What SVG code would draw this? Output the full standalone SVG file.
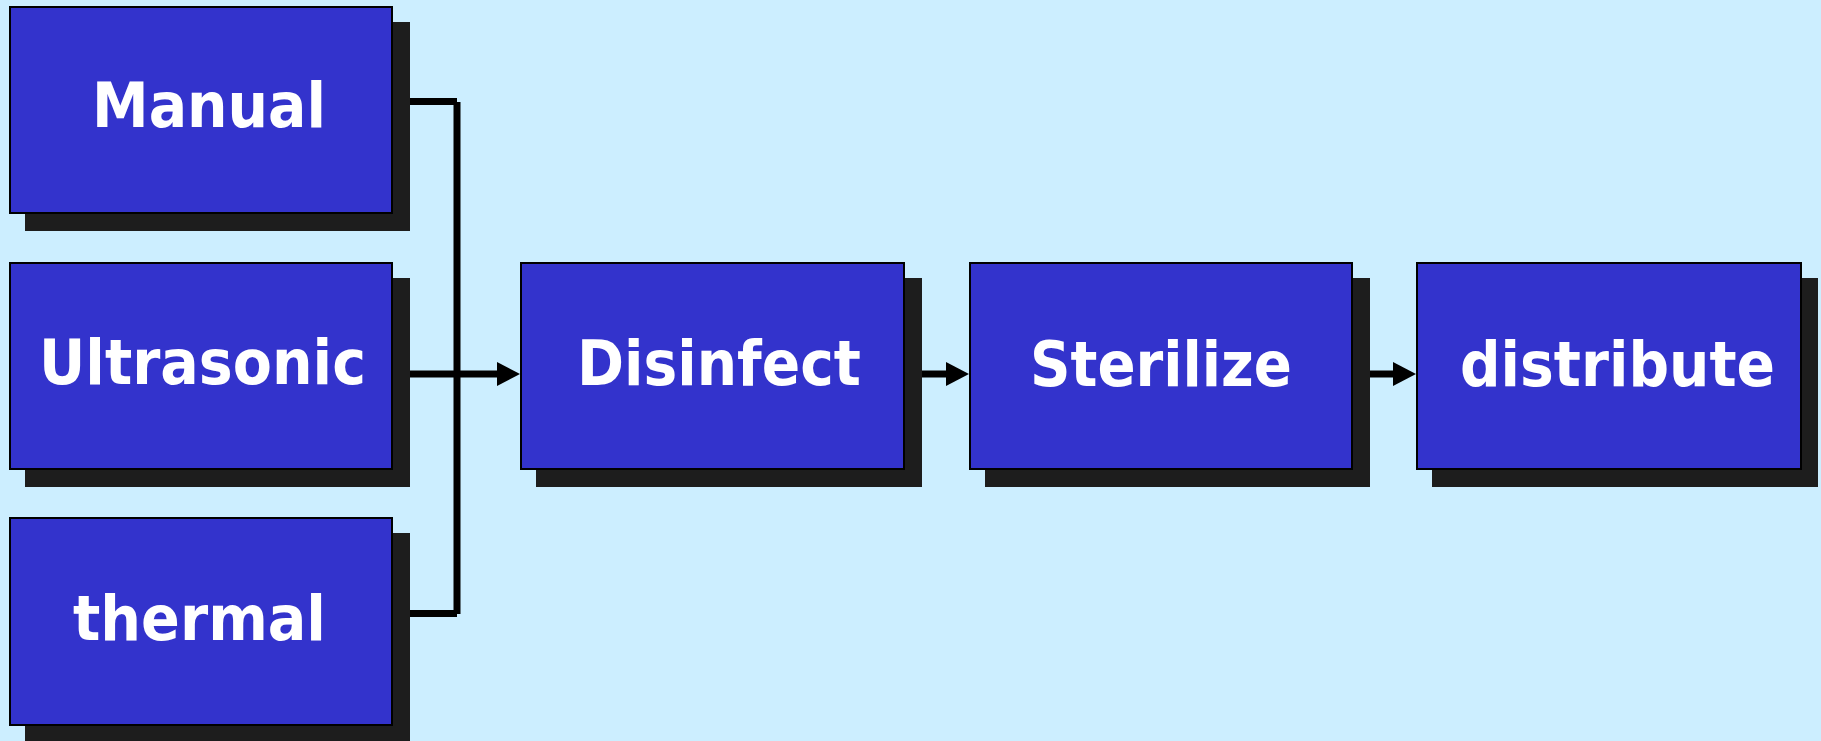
<svg xmlns="http://www.w3.org/2000/svg" width="1821" height="741" viewBox="0 0 1821 741">
  <style>
    .shadow { fill: #1d1d1d; }
    .box { fill: #3333cc; stroke: #000000; stroke-width: 2; }
    .label { fill: #ffffff; font-family: "DejaVu Sans", Verdana, sans-serif; font-weight: bold; font-size: 62px; }
    .wire { fill: none; stroke: #000000; stroke-width: 7; stroke-linecap: butt; }
  </style>
  <defs>
    <marker id="head" markerUnits="userSpaceOnUse" markerWidth="23" markerHeight="24" refX="0" refY="12" orient="auto" overflow="visible">
      <path d="M0,0 L23,12 L0,24 Z" fill="#000000"/>
    </marker>
  </defs>

  <rect x="0" y="0" width="1821" height="741" fill="#cceeff"/>

  <g id="manual">
    <rect class="shadow" x="25" y="22" width="385" height="209"/>
    <rect class="box" x="10" y="7" width="382" height="206"/>
    <text class="label" x="92" y="127" textLength="234" lengthAdjust="spacingAndGlyphs">Manual</text>
  </g>

  <g id="ultrasonic">
    <rect class="shadow" x="25" y="278" width="385" height="209"/>
    <rect class="box" x="10" y="263" width="382" height="206"/>
    <text class="label" x="39" y="384" textLength="327" lengthAdjust="spacingAndGlyphs">Ultrasonic</text>
  </g>

  <g id="thermal">
    <rect class="shadow" x="25" y="533" width="385" height="209"/>
    <rect class="box" x="10" y="518" width="382" height="207"/>
    <text class="label" x="73" y="640" textLength="253" lengthAdjust="spacingAndGlyphs">thermal</text>
  </g>

  <g id="disinfect">
    <rect class="shadow" x="536" y="278" width="386" height="209"/>
    <rect class="box" x="521" y="263" width="383" height="206"/>
    <text class="label" x="577" y="385" textLength="284" lengthAdjust="spacingAndGlyphs">Disinfect</text>
  </g>

  <g id="sterilize">
    <rect class="shadow" x="985" y="278" width="385" height="209"/>
    <rect class="box" x="970" y="263" width="382" height="206"/>
    <text class="label" x="1030" y="386" textLength="262" lengthAdjust="spacingAndGlyphs">Sterilize</text>
  </g>

  <g id="distribute">
    <rect class="shadow" x="1432" y="278" width="386" height="209"/>
    <rect class="box" x="1417" y="263" width="384" height="206"/>
    <text class="label" x="1460" y="386" textLength="315" lengthAdjust="spacingAndGlyphs">distribute</text>
  </g>

  <g id="connectors">
    <!-- cleaning methods merge into a single bus -->
    <line class="wire" x1="410" y1="101.5" x2="457" y2="101.5"/>
    <line class="wire" x1="457" y1="102" x2="457" y2="614"/>
    <line class="wire" x1="410" y1="613.5" x2="457" y2="613.5"/>
    <line class="wire" x1="410" y1="374" x2="497" y2="374" marker-end="url(#head)"/>
    <!-- main process chain -->
    <line class="wire" x1="922" y1="374" x2="946" y2="374" marker-end="url(#head)"/>
    <line class="wire" x1="1370" y1="374" x2="1393" y2="374" marker-end="url(#head)"/>
  </g>
</svg>
